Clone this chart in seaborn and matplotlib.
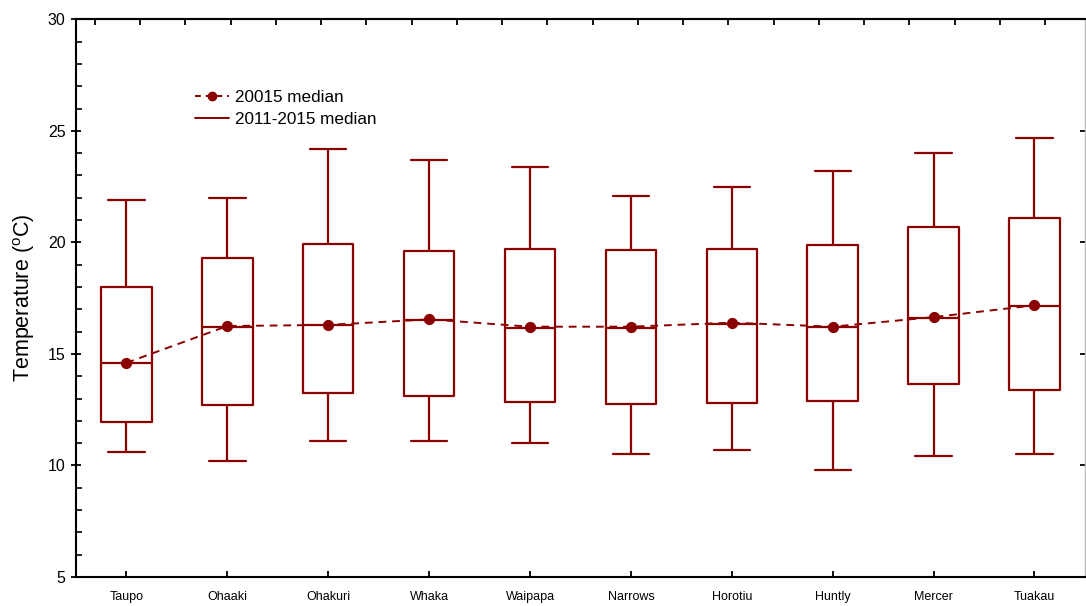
import numpy as np
import pandas as pd
import seaborn as sns
import matplotlib.pyplot as plt
from matplotlib.lines import Line2D
from matplotlib.ticker import MultipleLocator

sites = ["Taupo", "Ohaaki", "Ohakuri", "Whaka", "Waipapa",
         "Narrows", "Horotiu", "Huntly", "Mercer", "Tuakau"]

# 2011-2015 summary: whisker low, Q1, median, Q3, whisker high
low = [10.6, 10.2, 11.1, 11.1, 11.0, 10.5, 10.7, 9.8, 10.4, 10.5]
q1 = [11.95, 12.7, 13.25, 13.1, 12.85, 12.75, 12.8, 12.9, 13.65, 13.4]
med = [14.6, 16.2, 16.3, 16.5, 16.15, 16.15, 16.35, 16.2, 16.6, 17.15]
q3 = [18.0, 19.3, 19.95, 19.6, 19.7, 19.65, 19.7, 19.9, 20.7, 21.1]
high = [21.9, 22.0, 24.2, 23.7, 23.4, 22.1, 22.5, 23.2, 24.0, 24.7]

# 2015 medians
median_2015 = [14.6, 16.25, 16.3, 16.55, 16.22, 16.22, 16.4, 16.22, 16.65, 17.18]

red = "#8b0000"

rows = []
for i, s in enumerate(sites):
    for v in (low[i], q1[i], med[i], q3[i], high[i]):
        rows.append({"site": s, "temp": v})
df = pd.DataFrame(rows)

sns.set_style("ticks")
plt.rcParams["font.family"] = ["Liberation Sans", "DejaVu Sans"]
plt.rcParams["mathtext.fontset"] = "custom"
plt.rcParams["mathtext.rm"] = "Liberation Sans"
plt.rcParams["text.color"] = "black"
plt.rcParams["axes.labelcolor"] = "black"
plt.rcParams["xtick.color"] = "black"
plt.rcParams["ytick.color"] = "black"

fig = plt.figure(figsize=(10.86, 6.06), dpi=100)
ax = fig.add_axes([0.070, 0.048, 0.929, 0.920])

sns.boxplot(data=df, x="site", y="temp", order=sites, whis=(0, 100),
            showfliers=False, fill=False, color=red, width=0.5,
            linewidth=1.6, capwidths=0.36, ax=ax)

sns.pointplot(x=sites, y=median_2015, order=sites, color=red,
              linestyles="--", markers="o", markersize=7, linewidth=1.4,
              errorbar=None, ax=ax)
for ln in ax.lines[-1:]:
    ln.set_dashes((4, 3))

ax.set_xlim(-0.5, 9.5)
ax.set_ylim(5, 30)
ax.yaxis.set_major_locator(MultipleLocator(5))
ax.yaxis.set_minor_locator(MultipleLocator(1))
ax.set_xlabel("")
ax.set_ylabel(r"Temperature ($^{\mathrm{o}}$C)", fontsize=15.5, labelpad=8)

for sp in ax.spines.values():
    sp.set_visible(True)
    sp.set_linewidth(1.5)
    sp.set_color("black")
ax.spines["right"].set_color("#bbbbbb")
ax.spines["right"].set_linewidth(1.0)

ax.tick_params(axis="y", which="major", direction="inout", length=7,
               width=1.3, labelsize=11.5, right=True, pad=4)
ax.tick_params(axis="y", which="minor", direction="in", length=4,
               width=1.2, right=False)
ax.tick_params(axis="x", which="major", direction="in", length=4,
               width=1.3, labelsize=9, pad=10)

top = ax.secondary_xaxis("top")
top.set_xticks(-0.314 + 0.4485 * np.arange(22))
top.tick_params(direction="in", length=4, width=1.3, labeltop=False)
top.spines["top"].set_linewidth(1.5)

handles = [
    Line2D([], [], color=red, linestyle="--", dashes=(3, 2.5), marker="o",
           markersize=6, linewidth=1.4),
    Line2D([], [], color=red, linewidth=1.4),
]
ax.legend(handles, ["20015 median", "2011-2015 median"], loc="upper left",
          bbox_to_anchor=(0.103, 0.901), frameon=False, fontsize=12.3,
          handlelength=2.0, handletextpad=0.35, labelspacing=0.42)

fig.savefig("out.png", dpi=100)
